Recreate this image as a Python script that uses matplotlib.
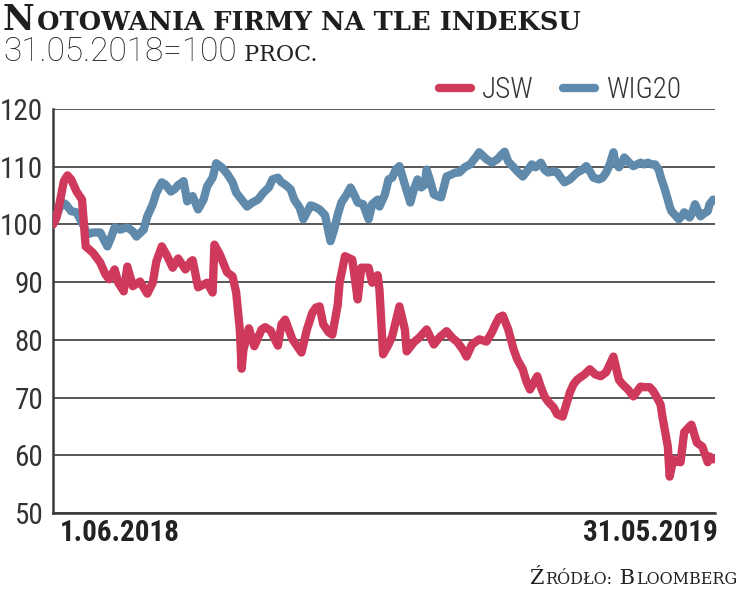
import matplotlib
matplotlib.use('Agg')
import matplotlib.pyplot as plt
from matplotlib import font_manager
from matplotlib.transforms import IdentityTransform

# dni od 1.06.2018, wartosci w proc. (31.05.2018 = 100)
jsw_days = [0, 2, 4, 6, 8, 10, 13, 16, 18, 22, 26, 29, 31, 34, 36, 39, 41, 44, 48, 52,
            55, 57, 60, 63, 66, 69, 73, 76, 77, 80, 83, 85, 88, 89, 92, 96, 99, 101, 103, 104,
            105, 108, 111, 115, 117, 120, 124, 126, 128, 132, 135, 137, 140, 143, 145, 147, 149, 152, 154, 157,
            158, 161, 165, 168, 170, 174, 176, 179, 180, 182, 185, 187, 191, 194, 195, 199, 202, 206, 210, 213,
            217, 220, 223, 226, 228, 231, 235, 239, 242, 244, 246, 248, 251, 254, 256, 259, 261, 263, 267, 269,
            271, 273, 276, 278, 281, 283, 285, 287, 289, 293, 296, 299, 302, 305, 309, 312, 314, 317, 320, 324,
            326, 329, 331, 333, 335, 336, 339, 340, 342, 344, 346, 348, 351, 352, 355, 358, 361, 362, 364]
jsw_values = [100.0, 101.2, 104.3, 107.5, 108.5, 107.8, 105.7, 104.3, 96.2, 95.1, 93.4, 91.3, 90.5, 92.2, 89.9, 88.4, 92.7, 89.3, 90.1, 88.0,
              89.9, 93.6, 96.2, 94.5, 92.5, 94.1, 92.2, 93.6, 93.8, 89.1, 89.6, 89.9, 88.2, 96.5, 94.8, 91.7, 91.0, 88.2, 81.8, 75.0,
              78.3, 82.0, 78.9, 81.8, 82.2, 81.6, 79.0, 82.7, 83.5, 80.1, 78.7, 77.8, 81.8, 84.7, 85.6, 85.8, 82.7, 81.3, 80.9, 86.1,
              89.9, 94.5, 93.9, 87.0, 92.5, 92.5, 89.9, 91.2, 88.7, 77.5, 79.2, 80.6, 85.8, 81.8, 78.0, 79.6, 80.4, 81.8, 79.2, 80.4,
              81.5, 80.4, 79.6, 78.3, 77.1, 79.2, 80.1, 79.7, 81.3, 82.7, 83.9, 84.2, 81.8, 78.3, 76.6, 74.9, 72.8, 71.4, 73.7, 71.8,
              70.2, 69.3, 68.3, 67.1, 66.7, 68.8, 70.9, 72.3, 73.1, 74.0, 74.9, 74.0, 73.7, 74.4, 77.1, 73.1, 72.3, 71.4, 70.2, 71.9,
              71.8, 71.8, 71.1, 70.0, 68.8, 66.7, 61.5, 56.3, 59.3, 58.9, 58.8, 64.0, 65.0, 65.3, 62.2, 61.5, 58.8, 59.8, 59.3]

wig_days = [0, 2, 5, 7, 10, 13, 17, 19, 22, 26, 28, 30, 32, 34, 37, 41, 44, 46, 50, 52,
            55, 57, 60, 62, 65, 67, 69, 72, 74, 77, 80, 83, 85, 88, 90, 93, 96, 99, 101, 104,
            107, 110, 113, 116, 119, 121, 124, 126, 128, 131, 133, 136, 138, 140, 142, 144, 147, 150, 153, 155,
            157, 159, 162, 164, 166, 168, 171, 174, 176, 179, 180, 183, 185, 187, 189, 191, 194, 197, 199, 201,
            203, 205, 206, 208, 210, 212, 214, 217, 220, 222, 224, 227, 230, 233, 235, 238, 239, 242, 245, 247,
            249, 251, 254, 256, 259, 262, 264, 266, 269, 271, 273, 276, 278, 280, 282, 285, 289, 292, 294, 296,
            298, 301, 303, 305, 307, 309, 310, 312, 314, 315, 318, 320, 322, 324, 326, 328, 330, 332, 334, 335,
            337, 339, 340, 341, 343, 345, 347, 348, 351, 352, 354, 356, 357, 359, 361, 362, 364]
wig_values = [100.0, 101.7, 103.8, 103.5, 102.3, 102.1, 99.7, 98.3, 98.6, 98.6, 97.4, 96.2, 97.7, 99.5, 99.1, 99.5, 98.8, 97.9, 99.1, 101.4,
              103.5, 105.5, 107.3, 106.9, 105.7, 106.1, 106.8, 107.5, 104.0, 104.9, 102.6, 104.3, 106.6, 108.1, 110.6, 109.9, 108.8, 107.3, 105.5, 104.3,
              103.1, 103.8, 104.3, 105.5, 106.4, 107.8, 108.1, 107.3, 106.9, 106.1, 104.3, 102.9, 100.9, 102.1, 103.3, 103.1, 102.6, 101.6, 97.1, 99.1,
              101.7, 103.8, 105.2, 106.4, 105.2, 103.8, 103.5, 100.9, 103.5, 104.3, 103.1, 105.2, 107.8, 108.1, 109.5, 110.1, 106.9, 103.8, 106.1, 107.8,
              106.4, 106.9, 109.5, 107.5, 105.2, 104.9, 104.7, 108.3, 108.7, 109.0, 109.0, 109.9, 110.4, 111.6, 112.5, 111.6, 111.3, 110.7, 111.3, 112.0,
              112.6, 110.9, 109.9, 109.2, 108.3, 109.5, 110.4, 109.9, 110.7, 109.5, 109.0, 109.2, 109.0, 108.1, 107.3, 107.8, 109.0, 109.5, 110.1, 109.2,
              108.1, 107.8, 108.1, 109.0, 110.4, 112.5, 110.9, 109.9, 110.9, 111.6, 110.6, 110.1, 110.4, 110.7, 110.4, 110.7, 110.4, 110.4, 109.5, 108.3,
              106.4, 104.3, 103.1, 102.3, 101.6, 100.9, 101.6, 102.1, 101.2, 101.7, 103.5, 102.1, 101.4, 101.9, 102.3, 103.5, 104.3]

y_ticks = [50, 60, 70, 80, 90, 100, 110, 120]
x_labels = ['1.06.2018', '31.05.2019']

RED = '#cf3a5c'
BLUE = '#5f8aab'
H = 593

names = {f.name for f in font_manager.fontManager.ttflist}
narrow = next((n for n in ['Roboto Condensed', 'Liberation Sans Narrow', 'Open Sans Condensed']
               if n in names), 'Roboto')

fig = plt.figure(figsize=(7.4, 5.93), dpi=100)
ax = fig.add_axes([53 / 740, (H - 513) / H, 662 / 740, 404 / H])

ax.plot(wig_days, wig_values, color=BLUE, lw=6, solid_capstyle='round',
        solid_joinstyle='round', label='WIG20', zorder=3)
ax.plot(jsw_days, jsw_values, color=RED, lw=6, solid_capstyle='round',
        solid_joinstyle='round', label='JSW', zorder=4)

ax.set_xlim(0, 365)
ax.set_ylim(50, 120)
ax.set_yticks(y_ticks)
ax.set_xticks([])
ax.grid(axis='y', color='#4a4a4a', lw=1.3)
ax.set_axisbelow(True)
for s in ['top', 'right']:
    ax.spines[s].set_visible(False)
for s in ['left', 'bottom']:
    ax.spines[s].set_color('#3a3a3a')
    ax.spines[s].set_linewidth(1.8)
ax.tick_params(length=0)
ax.tick_params(axis='y', pad=7)
for lbl in ax.get_yticklabels():
    lbl.set_fontfamily([narrow, 'DejaVu Sans'])
    lbl.set_fontsize(21)
    lbl.set_color('#333333')

# daty na osi X: pierwsza przy lewym, druga przy prawym koncu
ax.annotate(x_labels[0], xy=(0, 0), xycoords='axes fraction', xytext=(7, -6),
            textcoords='offset pixels', ha='left', va='top', fontsize=21,
            family=[narrow, 'DejaVu Sans'], fontweight='semibold', color='#222222')
ax.annotate(x_labels[1], xy=(1, 0), xycoords='axes fraction', xytext=(3, -6),
            textcoords='offset pixels', ha='right', va='top', fontsize=21,
            family=[narrow, 'DejaVu Sans'], fontweight='semibold', color='#222222')

handles, labels = ax.get_legend_handles_labels()
leg = ax.legend(handles[::-1], labels[::-1], ncol=2, frameon=False, loc='lower right',
                bbox_to_anchor=(682 / 740, (H - 104) / H), bbox_transform=fig.transFigure,
                borderaxespad=0, borderpad=0, handlelength=1.1, handletextpad=0.4,
                columnspacing=1.0, prop={'family': [narrow, 'DejaVu Sans'], 'size': 21,
                                         'weight': 'light'})
for t in leg.get_texts():
    t.set_color('#333333')


def small_caps(x, y, text, big, small, ha='left', **kw):
    # kapitaliki: wielkie litery duze, reszta mniejsza
    runs = []
    for i, ch in enumerate(text):
        if ch == ' ':
            nxt = text[i + 1] if i + 1 < len(text) else 'a'
            is_big = nxt.isupper()
        else:
            is_big = ch.isupper()
        size = big if is_big else small
        if runs and runs[-1][1] == size:
            runs[-1][0] += ch.upper()
        else:
            runs.append([ch.upper(), size])
    r = fig.canvas.get_renderer()
    items = []
    for s, size in runs:
        t = fig.text(0, y, s, fontsize=size, transform=IdentityTransform(),
                     va='baseline', ha='left', **kw)
        items.append((t, t.get_window_extent(r).width, size * 0.08))
    total = sum(w + g for _, w, g in items)
    cur = x - total if ha == 'right' else x
    for t, w, g in items:
        t.set_x(cur)
        cur += w + g
    return cur


small_caps(3, H - 30, 'Notowania firmy na tle indeksu', 25, 18.5,
           family='DejaVu Serif', fontweight='bold', color='#1e1e1e')

r = fig.canvas.get_renderer()
sub = fig.text(3, H - 61, '31.05.2018=100', fontsize=24, family='Roboto', fontweight='light',
               color='#1e1e1e', transform=IdentityTransform(), va='baseline', ha='left')
sx = 3 + sub.get_window_extent(r).width
small_caps(sx, H - 61, ' proc.', 24, 16, family='DejaVu Serif', color='#222222')

small_caps(738, H - 584, 'Źródło: Bloomberg', 15, 11.5, ha='right',
           family='DejaVu Serif', color='#222222')

fig.savefig('out.png', dpi=100)
